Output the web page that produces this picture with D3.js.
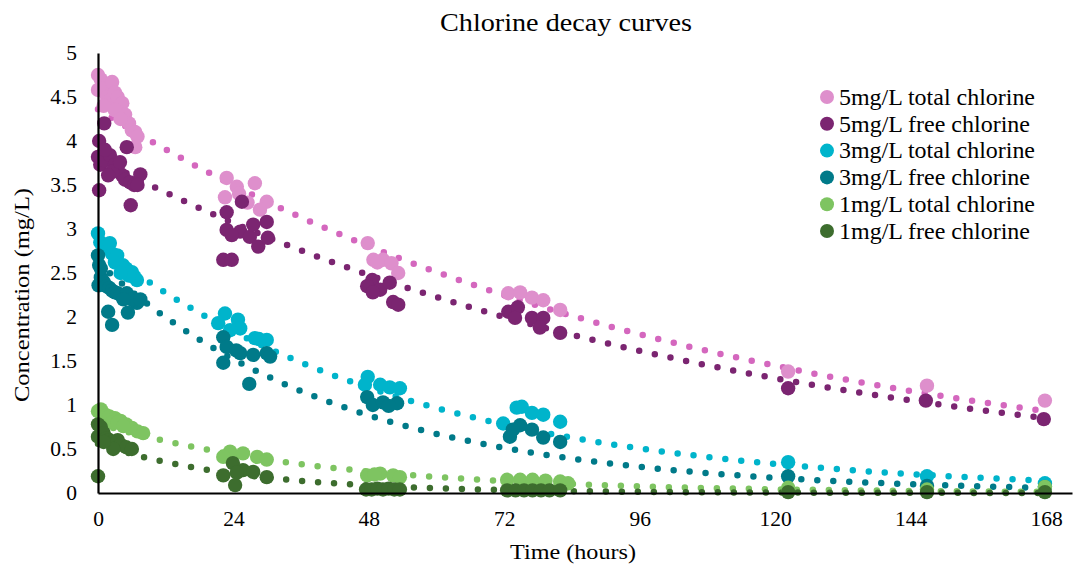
<!DOCTYPE html>
<html><head><meta charset="utf-8">
<script src="https://cdn.jsdelivr.net/npm/d3@7"></script>
<style>body{margin:0;background:#fff} svg{display:block} text{font-family:"Liberation Serif","Times New Roman",serif;fill:#000}</style>
</head><body><svg id="c" width="1073" height="565"></svg>
<script>
const seriesNames = ['5mg/L total chlorine','5mg/L free chlorine','3mg/L total chlorine','3mg/L free chlorine','1mg/L total chlorine','1mg/L free chlorine'];
const pointColors = ['#DE8FCC','#7B2571','#00B4CB','#007A89','#7EC461','#3D6D2E'];
const trendColors = ['#D467BE','#7B2571','#00B4CB','#007A89','#7EC461','#3D6D2E'];
const xTicks = [0,24,48,72,96,120,144,168];
const yTicks = [0,0.5,1,1.5,2,2.5,3,3.5,4,4.5,5];
const yTickLabels = ['0','0.5','1','1.5','2','2.5','3','3.5','4','4.5','5'];

// hours / concentration (mg/L) per series
const t5Total = [0,0,0.5,1,1.6,2.5,2,3,3.5,4.3,4.8,5.5,6,6.6,7,6.6,3,4,1, 22.8,22.5,24.6,27.8,29.9,28.7,25,26.5, 47.8,48.8,50.5,52,53.2,49.5, 72.7,74.8,76.9,78.9,81.9, 122.3,146.9,167.8];
const c5Total = [4.75,4.58,4.7,4.6,4.5,4.67,4.45,4.55,4.5,4.43,4.3,4.2,4.12,4.1,4.05,3.93,4.35,4.25,4.4, 3.58,3.36,3.48,3.52,3.31,3.22,3.4,3.3, 2.84,2.65,2.65,2.61,2.5,2.62, 2.27,2.28,2.22,2.19,2.08, 1.38,1.22,1.05];
const t5Free = [0.2,0,0.2,1.1,5.1,5.8,0.4,1.2,2.1,3,3.5,4.3,4.8,5.7,6.4,2.5,3.9,1.2,1.8,7.5,7, 25.5,22.8,22.8,25.2,26.9,28.4,29.9,30.1,23.7,22.2,23.7,27.5, 48.6,47.7,50,51.7,52.3,53.2,48.7, 72.7,74.4,73.9,76.9,78.9,78.3,81.9, 122.3,146.7,167.6];
const c5Free = [4.0,3.82,3.44,4.2,3.93,3.27,3.73,3.78,3.84,3.73,3.67,3.61,3.56,3.53,3.5,3.65,3.76,3.9,3.61,3.62,3.5, 3.31,3.19,2.99,2.97,2.91,2.8,3.08,2.9,2.93,2.65,2.65,3.05, 2.42,2.35,2.31,2.39,2.17,2.14,2.28, 2.06,2.11,1.99,1.99,1.99,1.88,1.82, 1.19,1.05,0.84];
const t3Total = [0,0.4,1,1.5,2.1,2.5,3.4,3,4.4,5,6,6.5,6.9,5.5,4, 22.5,24.8,21.3,25.2,27.8,29.9,23.4,28.5, 47.8,47.3,50,51.7,53.5, 74.2,75.1,76.9,78.9,81.9,71.8, 122.3,146.9,167.8];
const c3Total = [2.95,2.85,2.78,2.8,2.84,2.72,2.7,2.62,2.59,2.55,2.51,2.45,2.42,2.47,2.5, 2.04,1.97,1.93,1.87,1.76,1.74,1.85,1.75, 1.32,1.23,1.23,1.2,1.19, 0.97,0.98,0.91,0.89,0.81,0.79, 0.35,0.19,0.11];
const t3Free = [0,0.2,0.1,0.5,1,1.5,2,2.5,3,3.5,4,5.1,6.9,6,1.8,2.5,5.3,0.5,4.5,7.5, 22.2,22.8,22.2,25.2,27.5,29.9,26.8,30.5,24.5, 47.7,48.7,50.5,53,51.5, 73,74.8,76.9,78.9,81.9,73.5, 122.3,146.9,167.8];
const c3Free = [2.7,2.59,2.36,2.45,2.4,2.35,2.33,2.3,2.28,2.27,2.25,2.27,2.16,2.2,2.06,1.91,2.05,2.55,2.2,2.2, 1.77,1.66,1.48,1.59,1.57,1.59,1.24,1.55,1.62, 1.09,1.0,1.03,1.02,0.99, 0.64,0.77,0.72,0.63,0.58,0.72, 0.19,0.08,0.07];
const t1Total = [0,0.5,1,1.5,2,3,4,5,6,7,2.5,3.5,4.5,8, 23.4,25.7,28.2,29.9,22.2, 47.7,50,52.3,53.5,49, 72.5,74.8,77,79.3,81.9,83.3, 122.3,146.9,167.8];
const c1Total = [0.93,0.95,0.9,0.88,0.87,0.85,0.82,0.78,0.74,0.7,0.8,0.8,0.76,0.68, 0.47,0.45,0.41,0.38,0.41, 0.2,0.22,0.2,0.18,0.21, 0.15,0.15,0.15,0.14,0.13,0.11, 0.06,0.04,0.07];
const t1Free = [0,0,0.5,1,1.5,2,2.5,3,3.5,4,5,6,2.7,1,0, 23.9,22.2,24.3,25.7,27.5,29.9,24.6, 47.5,48.5,49.5,50.5,51.5,52.5,53.5, 72.5,74,75.5,77,78.5,80,81.9, 122.3,146.9,167.8];
const c1Free = [0.78,0.64,0.75,0.68,0.62,0.6,0.58,0.56,0.6,0.55,0.52,0.5,0.5,0.58,0.19, 0.34,0.2,0.09,0.26,0.24,0.18,0.23, 0.04,0.04,0.05,0.04,0.05,0.04,0.04, 0.03,0.03,0.03,0.03,0.03,0.03,0.03, 0.01,0.01,0.01];

// exponential trendline values read at t = 0 h and t = 168 h
const trendAt0 = [4.36,3.80,2.82,2.62,0.79,0.56];
const trendAt168 = [0.93,0.85,0.14,0.058,0.013,0.0008];

const times = [t5Total,t5Free,t3Total,t3Free,t1Total,t1Free];
const concs = [c5Total,c5Free,c3Total,c3Free,c1Total,c1Free];

const svg = d3.select('#c');
const x = d3.scaleLinear().domain([0,172.6]).range([98,1072]);
const y = d3.scaleLinear().domain([0,5]).range([493,53]);

// trendlines
const line = d3.line().x(d=>x(d[0])).y(d=>y(d[1]));
seriesNames.forEach((n,i)=>{
  const a = trendAt0[i], b = trendAt168[i];
  const pts = d3.range(0,168.01,0.5).map(t=>[t, a*Math.pow(b/a, t/168)]);
  svg.append('path').attr('d', line(pts)).attr('fill','none')
    .attr('stroke', trendColors[i]).attr('stroke-width',6.5)
    .attr('stroke-linecap','round').attr('stroke-dasharray','0 16');
});

// points
seriesNames.forEach((n,i)=>{
  svg.append('g').selectAll('circle').data(d3.zip(times[i],concs[i])).join('circle')
    .attr('cx',d=>x(d[0])).attr('cy',d=>y(d[1])).attr('r',7.2).attr('fill',pointColors[i]);
});

// axes
const xAxis = d3.axisBottom(x).tickValues(xTicks).tickSize(0).tickPadding(18);
const gx = svg.append('g').attr('transform','translate(0,493)').call(xAxis);
gx.select('.domain').attr('stroke','#000').attr('stroke-width',2.2);
gx.selectAll('text').attr('font-size',21.5).attr('font-family','"Liberation Serif",serif');
const yAxis = d3.axisLeft(y).tickValues(yTicks).tickFormat((d,i)=>yTickLabels[i]).tickSize(0).tickPadding(21);
const gy = svg.append('g').attr('transform','translate(98,0)').call(yAxis);
gy.select('.domain').attr('stroke','#000').attr('stroke-width',2.2);
gy.selectAll('text').attr('font-size',21.5).attr('font-family','"Liberation Serif",serif');

// title & labels
svg.append('text').attr('x',566).attr('y',31).attr('text-anchor','middle').attr('font-size',26)
  .attr('textLength',252).attr('lengthAdjust','spacingAndGlyphs').text('Chlorine decay curves');
svg.append('text').attr('x',573).attr('y',559).attr('text-anchor','middle').attr('font-size',22)
  .attr('textLength',126).attr('lengthAdjust','spacingAndGlyphs').text('Time (hours)');
svg.append('text').attr('transform','translate(29,295) rotate(-90)').attr('text-anchor','middle').attr('font-size',22)
  .attr('textLength',214).attr('lengthAdjust','spacingAndGlyphs').text('Concentration (mg/L)');

// legend
const legendWidths = [196,191,196,191,196,191];
const lg = svg.append('g');
seriesNames.forEach((n,i)=>{
  const yy = 97 + i*26.8;
  lg.append('circle').attr('cx',827).attr('cy',yy).attr('r',7).attr('fill',pointColors[i]);
  lg.append('text').attr('x',839).attr('y',yy).attr('dy','0.35em').attr('font-size',22.5)
    .attr('textLength',legendWidths[i]).attr('lengthAdjust','spacingAndGlyphs').text(n);
});
</script></body></html>
